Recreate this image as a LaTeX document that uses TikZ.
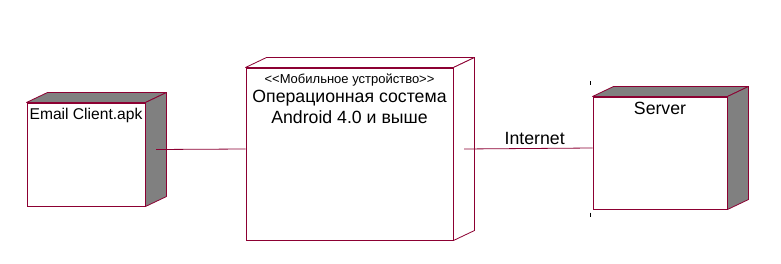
\documentclass[tikz,border=0pt]{standalone}
\usepackage{fontspec}
\setmainfont{Liberation Sans}
\usepackage{tikz}
\usetikzlibrary{positioning,calc}

\definecolor{nodeedge}{RGB}{140,0,50}
\definecolor{nodeshade}{RGB}{128,128,128}

\begin{document}
\begin{tikzpicture}[x=1pt,y=1pt,node distance=5pt,
  front/.style={draw=nodeedge,line width=1pt,fill=white,rectangle,inner sep=0pt},
  link/.style={draw=nodeedge,line width=0.8pt},
  every node/.style={font=\fontsize{17.7}{20.5}\selectfont}]
  \useasboundingbox (0,0) rectangle (781,263);

  % Front faces of the three deployment nodes
\node[front,minimum width=118pt,minimum height=103pt] (email) at (86,108.5) {};

\node[front,minimum width=207pt,minimum height=172pt] (os) at (349.5,109) {};

\node[front,minimum width=134pt,minimum height=112pt] (server) at (660,110) {};

  % Top and side faces (depth 21 x 10)
  \foreach \n/\c in {email/nodeshade,os/white,server/nodeshade}{
    \filldraw[draw=nodeedge,line width=0.8pt,fill=\c,line join=round]
      (\n.north west) -- ++(21,10) -- ([shift={(21,10)}]\n.north east) -- (\n.north east) -- cycle;
    \filldraw[draw=nodeedge,line width=0.8pt,fill=\c,line join=round]
      (\n.north east) -- ++(21,10) -- ([shift={(21,10)}]\n.south east) -- (\n.south east) -- cycle;
  }

  % Labels
\node[inner sep=0pt,font=\fontsize{15.6}{18}\selectfont,below=5pt of email.north] (emaillbl) {Email Client.apk};

\node[inner sep=0pt,font=\fontsize{13}{15}\selectfont,below=6pt of os.north] (stereo) {<{}<Мобильное устройство>{}>};

\node[inner sep=0pt,align=center,below=4pt of stereo] (oslbl) {Операционная состема\\Android 4.0 и выше};

\node[inner sep=0pt,below=5pt of server.north] (serverlbl) {Server};

  % Connections
  \draw[link] ([shift={(10.5,5)}]email.east) -- ([yshift=5]os.west);
  \draw[link] ([shift={(10.5,5)}]os.east) -- node[above=3pt,pos=0.55,inner sep=0pt]{Internet} ([yshift=5]server.west);

  % selection ticks beside the server
  \draw[line width=0.6pt] ([shift={(-2,15.5)}]server.north west) -- ++(0,-4);
  \draw[line width=0.6pt] ([shift={(-2,-3)}]server.south west) -- ++(0,-4);
\end{tikzpicture}
\end{document}
